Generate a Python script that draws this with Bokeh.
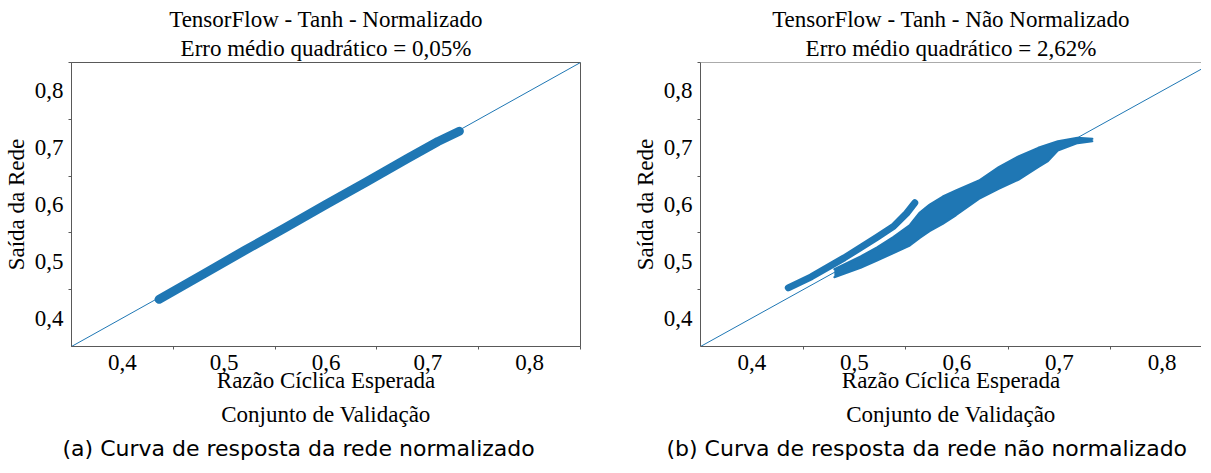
from bokeh.plotting import figure
from bokeh.layouts import row
from bokeh.models import FixedTicker, Title, Span
from bokeh.embed import file_html
from bokeh.resources import INLINE

# ---------------- data ----------------
tick_values = [0.4, 0.5, 0.6, 0.7, 0.8]
tick_labels = ["0,4", "0,5", "0,6", "0,7", "0,8"]
minor_tick_values = [0.45, 0.55, 0.65, 0.75, 0.85]
axis_limits = [0.35, 0.85]
identity_x = [0.35, 0.85]
identity_y = [0.35, 0.85]

# (a) normalized: network output vs expected duty cycle
norm_x = [0.436, 0.48, 0.52, 0.56, 0.60, 0.64, 0.68, 0.71, 0.731]
norm_y = [0.433, 0.478, 0.519, 0.559, 0.600, 0.640, 0.681, 0.711, 0.729]

# (b) not normalized: thin upper branch
raw_thin_x = [0.4356, 0.4580, 0.4901, 0.5221, 0.5382, 0.5510, 0.5589]
raw_thin_y = [0.4533, 0.4727, 0.5060, 0.5424, 0.5615, 0.5846, 0.6030]

# (b) not normalized: wide main branch (upper / lower envelope of the cloud)
raw_band_x = [0.4805, 0.5061, 0.5221, 0.5382, 0.5541, 0.5638, 0.5734, 0.5862, 0.5990,
              0.6215, 0.6407, 0.6599, 0.6792, 0.6888, 0.6984, 0.7176, 0.7321]
raw_band_upper = [0.4860, 0.5085, 0.5245, 0.5430, 0.5640, 0.5860, 0.6000, 0.6141, 0.6246,
                  0.6423, 0.6657, 0.6845, 0.6998, 0.7056, 0.7115, 0.7174, 0.7156]
raw_band_lower = [0.4720, 0.4885, 0.5014, 0.5143, 0.5278, 0.5413, 0.5530, 0.5660, 0.5810,
                  0.6100, 0.6276, 0.6434, 0.6657, 0.6763, 0.6951, 0.7080, 0.7115]

titles_a = ["TensorFlow - Tanh - Normalizado", "Erro médio quadrático = 0,05%"]
titles_b = ["TensorFlow - Tanh - Não Normalizado", "Erro médio quadrático = 2,62%"]
x_label = "Razão Cíclica Esperada"
x_sublabel = "Conjunto de Validação"
y_label = "Saída da Rede"
caption_a = "(a) Curva de resposta da rede normalizado"
caption_b = "(b) Curva de resposta da rede não normalizado"

# ---------------- style ----------------
BLUE = "#1f77b4"
SPINE = "#595959"
SERIF = "Liberation Serif"
SANS = "DejaVu Sans"
FS = "23px"
PX_PER_UNIT_X = 1040.0  # frame pixels per data unit along x


def make_fig(titles, caption, caption_offset, width, frame_w, mb_left, mb_right, full_outline):
    if full_outline:
        x_end = axis_limits[1]
    else:
        x_end = axis_limits[0] + frame_w / PX_PER_UNIT_X
    p = figure(width=width, height=465,
               min_border_left=mb_left, min_border_right=mb_right,
               min_border_top=62, min_border_bottom=119,
               x_range=(axis_limits[0], x_end), y_range=(axis_limits[0], axis_limits[1]),
               output_backend="svg", toolbar_location=None)
    p.xgrid.visible = False
    p.ygrid.visible = False
    p.background_fill_color = "white"
    p.border_fill_color = "white"
    if full_outline:
        p.outline_line_color = SPINE
        p.outline_line_width = 1
    else:
        p.outline_line_color = None
        p.add_layout(Span(location=axis_limits[1], dimension="width",
                          line_color=SPINE, line_width=1))

    for ax in (p.xaxis[0], p.yaxis[0]):
        ax.ticker = FixedTicker(ticks=tick_values, minor_ticks=minor_tick_values)
        ax.major_label_overrides = dict(zip(tick_values, tick_labels))
        ax.major_tick_out = 0
        ax.major_tick_in = 0
        ax.minor_tick_out = 3
        ax.minor_tick_in = 0
        ax.minor_tick_line_color = SPINE
        ax.axis_line_color = SPINE
        ax.major_label_text_font = SERIF
        ax.major_label_text_font_size = FS
        ax.major_label_text_color = "black"
        ax.major_label_standoff = 5
        ax.axis_label_text_font = SERIF
        ax.axis_label_text_font_size = FS
        ax.axis_label_text_font_style = "normal"
        ax.axis_label_text_color = "black"
    p.xaxis[0].axis_label = x_label
    p.xaxis[0].axis_label_standoff = -5
    p.yaxis[0].axis_label = y_label
    p.yaxis[0].axis_label_standoff = 3

    # titles: subtitle first (closest to frame), then main title
    p.add_layout(Title(text=titles[1], align="center", text_font=SERIF, text_font_size=FS,
                       text_font_style="normal", text_color="black", standoff=4), "above")
    p.add_layout(Title(text=titles[0], align="center", text_font=SERIF, text_font_size=FS,
                       text_font_style="normal", text_color="black", standoff=0), "above")
    p.add_layout(Title(text=x_sublabel, align="center", text_font=SERIF, text_font_size=FS,
                       text_font_style="normal", text_color="black", standoff=8), "below")
    p.add_layout(Title(text=caption, align="left", offset=caption_offset, text_font=SANS,
                       text_font_size="22px", text_font_style="normal", text_color="black",
                       standoff=6), "below")
    return p


pa = make_fig(titles_a, caption_a, -9, 629, 516, 64, 49, True)
pa.line(identity_x, identity_y, line_color=BLUE, line_width=1)
pa.line(norm_x, norm_y, line_color=BLUE, line_width=9, line_cap="round", line_join="round")

pb = make_fig(titles_b, caption_b, -34, 572, 508, 64, 0, False)
pb.line(identity_x, identity_y, line_color=BLUE, line_width=1)
pb.line(raw_thin_x, raw_thin_y, line_color=BLUE, line_width=7, line_cap="round", line_join="round")
pb.varea(x=raw_band_x, y1=raw_band_lower, y2=raw_band_upper, fill_color=BLUE)
pb.line(raw_band_x, raw_band_upper, line_color=BLUE, line_width=2, line_cap="round", line_join="round")
pb.line(raw_band_x, raw_band_lower, line_color=BLUE, line_width=2, line_cap="round", line_join="round")

layout = row(pa, pb, spacing=0)
open("out.html", "w").write(file_html(layout, INLINE))
